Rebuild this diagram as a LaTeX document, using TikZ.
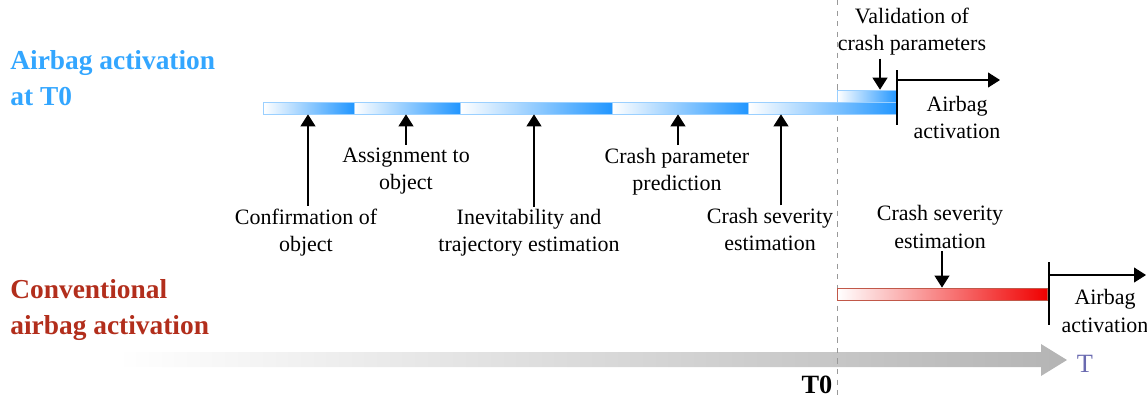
\documentclass[tikz,border=0pt]{standalone}
\usepackage{fontspec}
\setmainfont{Liberation Serif}
\usepackage{xcolor}
\usepackage{tikz}
\usetikzlibrary{arrows.meta, positioning, calc}
\definecolor{titleblue}{HTML}{33A6FF}
\definecolor{barblue}{HTML}{2196FF}
\definecolor{titlered}{HTML}{B22E1C}
\definecolor{barred}{HTML}{F00000}
\definecolor{axisgray}{HTML}{B4B4B4}
\definecolor{tcolor}{HTML}{6A6AB0}
\tikzstyle{label}   = [align=center, inner sep=1.5pt,
                       font=\fontsize{12.5}{15.4}\selectfont]
\tikzstyle{title}   = [align=left, anchor=west, inner sep=0pt,
                       font=\fontsize{15.6}{20.5}\selectfont\bfseries]
\tikzstyle{bluebar} = [rectangle, anchor=west, inner sep=0pt, minimum height=0.24cm,
                       left color=white, right color=barblue, draw=barblue!45, line width=0.4pt]
\tikzstyle{redbar}  = [rectangle, anchor=west, inner sep=0pt, minimum height=0.24cm,
                       left color=white, right color=barred, draw=titlered!80, line width=0.5pt]
\tikzstyle{arrow}   = [-{Triangle[length=2.4mm, width=3mm]}, line width=0.6pt, color=black]

\begin{document}
\begin{tikzpicture}[x=0.02cm, y=-0.02cm]
  \useasboundingbox (0,0) rectangle (1147,397);

  %% ── Time axis ──
  \shade[left color=white, right color=axisgray]
    (117,352) -- (1041,352) -- (1041,344) -- (1067,360) -- (1041,376)
    -- (1041,367) -- (117,367) -- cycle;
  \node[text=tcolor, font=\fontsize{15}{18}\selectfont, inner sep=0pt] (tlab) at (1085,364) {T};
  \coordinate (t0top) at (837,0);
  \coordinate (t0bot) at (837,397);
  \draw[gray!80, dashed, line width=0.5pt] (t0top) -- (t0bot);
  \node[font=\fontsize{15}{18}\selectfont\bfseries, inner sep=0pt] (t0) at (817,385) {T0};

  %% ── Titles ──
  \node[title, text=titleblue] (ttop) at (10,78.5) {Airbag activation\\at T0};
  \node[title, text=titlered] (tbot) at (10,310) {Conventional\\airbag activation};

  %% ── Airbag activation at T0 ──
  \node[bluebar, minimum width=1.82cm] (s1) at (263,108) {};
  \node[bluebar, minimum width=2.12cm] (s2) at (354,108) {};
  \node[bluebar, minimum width=3.04cm] (s3) at (460,108) {};
  \node[bluebar, minimum width=2.72cm] (s4) at (612,108) {};
  \node[bluebar, minimum width=2.98cm] (s5) at (748,108) {};
  \node[bluebar, minimum width=1.20cm] (s6) at (837,96) {};

  \node[label] (conf)  at (306,232.5) {Confirmation of\\object};
  \node[label] (assign) at (406,171)  {Assignment to\\object};
  \node[label] (inev)  at (529,233)   {Inevitability and\\trajectory estimation};
  \node[label] (pred)  at (677,171.5) {Crash parameter\\prediction};
  \node[label] (sev)   at (770,229.5) {Crash severity\\estimation};
  \node[label] (valid) at (912,32)    {Validation of\\crash parameters};
  \node[label] (act1)  at (957,117.5) {Airbag\\activation};

  \coordinate (p1) at (308,0);
  \coordinate (p2) at (406,0);
  \coordinate (p3) at (534,0);
  \coordinate (p4) at (678,0);
  \coordinate (p5) at (781,0);
  \coordinate (p6) at (880,0);

  \draw[arrow] (conf.north -| p1)   -- (s1.south -| p1);
  \draw[arrow] (assign.north -| p2) -- (s2.south -| p2);
  \draw[arrow] (inev.north -| p3)   -- (s3.south -| p3);
  \draw[arrow] (pred.north -| p4)   -- (s4.south -| p4);
  \draw[arrow] (sev.north -| p5)    -- (s5.south -| p5);
  \draw[arrow] (valid.south -| p6)  -- (s6.north -| p6);

  \coordinate (tk1a) at (897,70);
  \coordinate (tk1b) at (897,125);
  \coordinate (end1) at (1000,80);
  \draw[line width=0.6pt] (tk1a) -- (tk1b);
  \draw[arrow] (tk1a |- end1) -- (end1);

  %% ── Conventional airbag activation ──
  \node[redbar, minimum width=4.2cm] (r1) at (837,294) {};
  \node[label] (sev2) at (940,227) {Crash severity\\estimation};
  \node[label] (act2) at (1105,311) {Airbag\\activation};
  \coordinate (p7) at (942,0);
  \draw[arrow] (sev2.south -| p7) -- (r1.north -| p7);

  \coordinate (tk2a) at (1049,262);
  \coordinate (tk2b) at (1049,325);
  \coordinate (end2) at (1146,275);
  \draw[line width=0.6pt] (tk2a) -- (tk2b);
  \draw[arrow] (tk2a |- end2) -- (end2);

\end{tikzpicture}
\end{document}
